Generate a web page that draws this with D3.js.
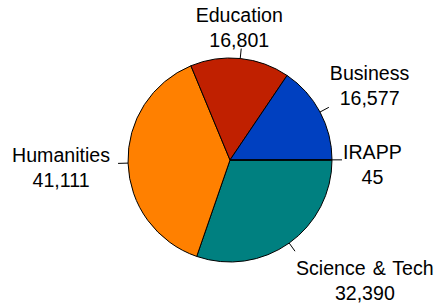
<!DOCTYPE html>
<html>
<head>
<meta charset="utf-8">
<script src="https://cdn.jsdelivr.net/npm/d3@7"></script>
<style>
	body { margin: 0; background: #fff; }
	text { font-family: "Liberation Sans", Arial, sans-serif; font-size: 19.6px; word-spacing: 1.5px; fill: #000; }
</style>
</head>
<body>
<svg id="chart" width="440" height="304"></svg>
<script>

// Data (clockwise from 3 o'clock)

var categories = ["Science & Tech", "Humanities", "Education", "Business", "IRAPP"];
var enrolment = [32390, 41111, 16801, 16577, 45];
var colours = ["#008080", "#FF8000", "#C02000", "#0040C0", "#0040C0"];

// Pie

var svg = d3.select("#chart");
var cx = 230, cy = 160, radius = 102;

var pie = d3.pie()
	.sort(null)
	.startAngle(Math.PI / 2)
	.endAngle(Math.PI / 2 + 2 * Math.PI);

var arc = d3.arc().innerRadius(0).outerRadius(radius);

var slices = pie(enrolment);

var g = svg.append("g").attr("transform", "translate(" + cx + "," + cy + ")");

g.selectAll("path")
	.data(slices)
	.enter().append("path")
	.attr("d", arc)
	.attr("fill", function(d, i) { return colours[i]; })
	.attr("stroke", "#000")
	.attr("stroke-width", 1)
	.attr("stroke-linejoin", "round");

// Leaders and labels

var format = d3.format(",");

slices.forEach(function(d, i) {
	var mid = (d.startAngle + d.endAngle) / 2;
	var dx = Math.sin(mid), dy = -Math.cos(mid);
	var x0 = dx * radius, y0 = dy * radius;
	var x1 = dx * (radius + 10), y1 = dy * (radius + 10);

	g.append("line")
		.attr("x1", x0).attr("y1", y0)
		.attr("x2", x1).attr("y2", y1)
		.attr("stroke", "#000")
		.attr("stroke-width", 1);

	var label = g.append("g");
	var t1 = label.append("text").attr("text-anchor", "middle").text(categories[i]);
	var t2 = label.append("text").attr("text-anchor", "middle").attr("y", 25).text(format(enrolment[i]));
	var w = Math.max(t1.node().getComputedTextLength(), t2.node().getComputedTextLength());

	var lx, ly;
	if (dx > 0.3) lx = x1 + 1 + w / 2;
	else if (dx < -0.3) lx = x1 - 8 - w / 2;
	else lx = x1 - 2;

	if (dy < -0.3) ly = y1 - 27;
	else if (dy > 0.3) ly = y1 + 24;
	else ly = y1 - 1;

	label.attr("transform", "translate(" + lx + "," + ly + ")");
});

</script>
</body>
</html>
